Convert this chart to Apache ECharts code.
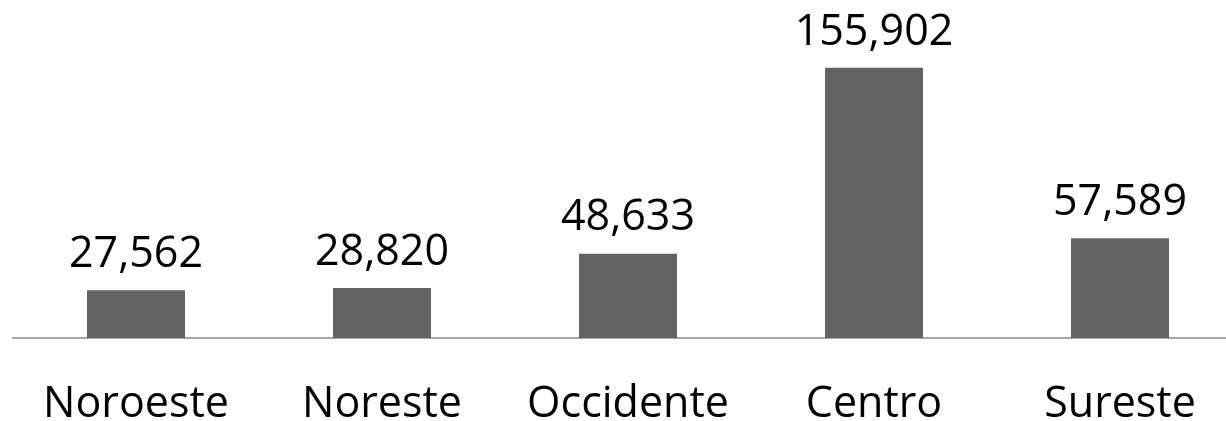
<!DOCTYPE html>
<html>
<head>
	<meta charset="UTF-8">
	<title>Regiones</title>
	<style type="text/css">
		html, body {
			margin: 0;
			padding: 0;
			background: #fff;
			overflow: hidden;
		}
		/* un poco mas ancho que la ventana: el eje sigue hasta el borde */
		#chart {
			width: 1260px;
			height: 421px;
		}
	</style>
</head>
<body>
	<div id="chart"></div>

	<script type="text/javascript" src="https://cdn.jsdelivr.net/npm/echarts@6/dist/echarts.min.js"></script>
	<script type="text/javascript">
		var regiones = ['Noroeste', 'Noreste', 'Occidente', 'Centro', 'Sureste']
		var valores = [27562, 28820, 48633, 155902, 57589]

		var chart = echarts.init(document.getElementById('chart'))

		var option = {
			animation: false,
			textStyle: {
				fontFamily: 'Open Sans'
			},
			grid: {
				left: 13,
				right: 17,
				top: 0,
				bottom: 83,
				outerBoundsMode: 'none',
				containLabel: false
			},
			xAxis: {
				type: 'category',
				data: regiones,
				axisLine: {
					lineStyle: { color: '#a6a6a6', width: 2 }
				},
				axisTick: { show: false },
				axisLabel: {
					interval: 0,
					color: '#000',
					fontSize: 43,
					margin: 45,
					fontFamily: 'Open Sans'
				}
			},
			yAxis: {
				type: 'value',
				min: 0,
				max: 195000,
				show: false,
				splitLine: { show: false }
			},
			series: [
				{
					type: 'bar',
					data: valores,
					barWidth: 98,
					itemStyle: {
						color: '#636363'
					},
					label: {
						show: true,
						position: 'top',
						distance: 14,
						color: '#000',
						fontSize: 43,
						fontFamily: 'Open Sans',
						formatter: function (p) {
							return p.value.toLocaleString('en-US')
						}
					}
				}
			]
		};

		chart.setOption(option);
	</script>
</body>
</html>
